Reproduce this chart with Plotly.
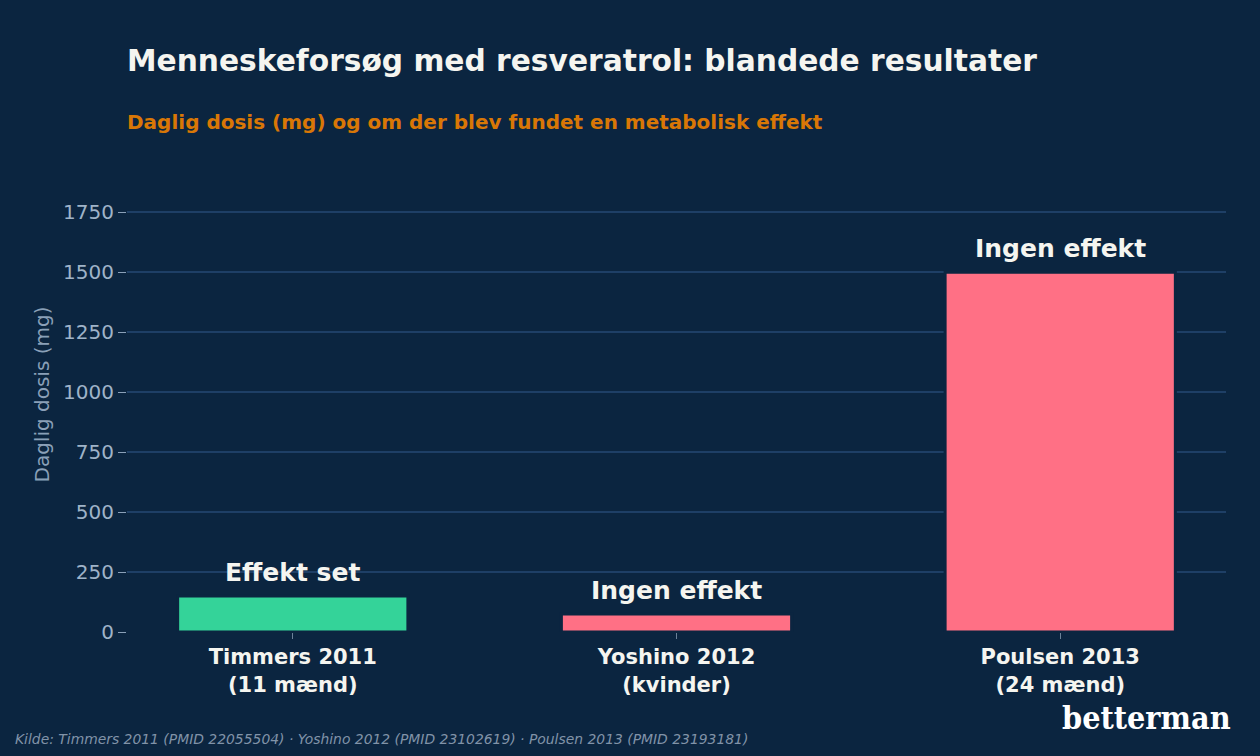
import plotly.graph_objects as go

categories = ["Timmers 2011<br>(11 mænd)", "Yoshino 2012<br>(kvinder)", "Poulsen 2013<br>(24 mænd)"]
doses = [150, 75, 1500]
effects = ["Effekt set", "Ingen effekt", "Ingen effekt"]
colors = ["#34d399", "#ff7085", "#ff7085"]
tick_vals = [0, 250, 500, 750, 1000, 1250, 1500, 1750]

BG = "#0b2540"
W, H = 1260, 756
L, R, T, B = 127, 34, 157, 124
PH = H - T - B
PW = W - L - R


def py(px):
    return (H - B - px) / PH


def pxx(px):
    return (px - L) / PW


fig = go.Figure()
fig.add_trace(go.Bar(
    x=categories, y=doses, width=0.6,
    marker=dict(color=colors, line=dict(color=BG, width=3)),
    hoverinfo="skip",
))

for c, d, e in zip(categories, doses, effects):
    fig.add_annotation(
        x=c, y=d, text=f"<b>{e}</b>", showarrow=False,
        yanchor="bottom", yshift=7,
        font=dict(family="DejaVu Sans", size=25, color="#f5f5f0"),
    )

fig.update_layout(
    width=W, height=H,
    paper_bgcolor=BG, plot_bgcolor=BG,
    margin=dict(l=L, r=R, t=T, b=B),
    showlegend=False,
    font=dict(family="DejaVu Sans"),
    xaxis=dict(
        range=[-0.432, 2.432], showgrid=False, zeroline=False,
        ticks="outside", ticklen=6, tickcolor="#6b8299",
        tickfont=dict(size=21, color="#f5f5f0", family="DejaVu Sans", weight="bold"),
        showline=False,
    ),
    yaxis=dict(
        range=[0, 1980], tickvals=tick_vals,
        showgrid=True, gridcolor="#1e3f66", gridwidth=2,
        zeroline=False, ticks="outside", ticklen=8, tickcolor="#8aa0b8",
        tickfont=dict(size=20, color="#9fb3c8"),
        title=dict(text="Daglig dosis (mg)", font=dict(size=20, color="#8aa0b8"), standoff=8),
    ),
)

fig.add_annotation(
    text="<b>Menneskeforsøg med resveratrol: blandede resultater</b>",
    xref="paper", yref="paper", x=pxx(125), y=py(60), xanchor="left", yanchor="middle",
    showarrow=False, font=dict(size=29.7, color="#f5f5f0", family="DejaVu Sans"),
)
fig.add_annotation(
    text="<b>Daglig dosis (mg) og om der blev fundet en metabolisk effekt</b>",
    xref="paper", yref="paper", x=pxx(125), y=py(122), xanchor="left", yanchor="middle",
    showarrow=False, font=dict(size=20, color="#d97706", family="DejaVu Sans"),
)
fig.add_annotation(
    text="<i>Kilde: Timmers 2011 (PMID 22055504) · Yoshino 2012 (PMID 23102619) · Poulsen 2013 (PMID 23193181)</i>",
    xref="paper", yref="paper", x=pxx(13), y=py(739), xanchor="left", yanchor="middle",
    showarrow=False, font=dict(size=13.9, color="#8193a8", family="DejaVu Sans"),
)
fig.add_annotation(
    text="<b>betterman</b>",
    xref="paper", yref="paper", x=pxx(1233), y=py(718), xanchor="right", yanchor="middle",
    showarrow=False, font=dict(size=32, color="#ffffff", family="DejaVu Serif Condensed, DejaVu Serif"),
)

fig.write_html("out.html")
